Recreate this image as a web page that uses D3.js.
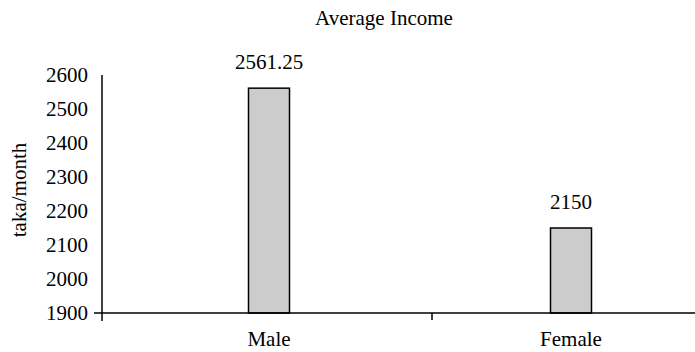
<!DOCTYPE html>
<html>
<head>
<meta charset="utf-8">
<script src="https://cdn.jsdelivr.net/npm/d3@7"></script>
<style>
  html, body { margin: 0; padding: 0; background: #fff; }
</style>
</head>
<body>
<svg id="chart" width="695" height="352" font-family="'Liberation Serif', Tinos, 'Times New Roman', Times, serif" font-size="21"></svg>
<script>
// Average monthly income by sex
const categories = ["Male", "Female"];
const incomes = [2561.25, 2150];
const valueLabels = ["2561.25", "2150"];
const yTicks = [1900, 2000, 2100, 2200, 2300, 2400, 2500, 2600];

const svg = d3.select("#chart");
const plotLeft = 102, plotRight = 762, plotTop = 75, plotBottom = 313;

const y = d3.scaleLinear().domain([1900, 2600]).range([plotBottom, plotTop]);
// category slots along the axis
const xBand = d3.scaleBand().domain(categories).range([plotLeft, plotRight]);
// bar / label centres
const xPos = d3.scalePoint().domain(categories).range([269, 571]);
const barW = 41;

// title
svg.append("text")
  .attr("x", 384).attr("y", 25)
  .attr("text-anchor", "middle")
  .text("Average Income");

// y axis title
svg.append("text")
  .attr("transform", "translate(26,190) rotate(-90)")
  .attr("text-anchor", "middle")
  .text("taka/month");

// y tick labels
svg.selectAll(".ytick").data(yTicks).enter().append("text")
  .attr("class", "ytick")
  .attr("x", plotLeft - 14)
  .attr("y", d => y(d))
  .attr("dy", "0.35em")
  .attr("text-anchor", "end")
  .text(d => d);

// bars
svg.selectAll(".bar").data(incomes).enter().append("rect")
  .attr("class", "bar")
  .attr("x", (d, i) => xPos(categories[i]) - barW / 2)
  .attr("y", d => y(d))
  .attr("width", barW)
  .attr("height", d => y(1900) - y(d))
  .attr("fill", "#cccccc")
  .attr("stroke", "#000")
  .attr("stroke-width", 1.5);

// value labels
svg.selectAll(".val").data(incomes).enter().append("text")
  .attr("class", "val")
  .attr("x", (d, i) => xPos(categories[i]))
  .attr("y", d => y(d) - 19)
  .attr("text-anchor", "middle")
  .text((d, i) => valueLabels[i]);

// axis lines
svg.append("line")
  .attr("x1", plotLeft).attr("x2", plotLeft)
  .attr("y1", plotTop).attr("y2", plotBottom + 8)
  .attr("stroke", "#000").attr("stroke-width", 1.5);
svg.append("line")
  .attr("x1", plotLeft - 8).attr("x2", 695)
  .attr("y1", plotBottom).attr("y2", plotBottom)
  .attr("stroke", "#000").attr("stroke-width", 1.5);

// category separator ticks
svg.selectAll(".xtick").data(categories.slice(1)).enter().append("line")
  .attr("class", "xtick")
  .attr("x1", d => xBand(d)).attr("x2", d => xBand(d))
  .attr("y1", plotBottom).attr("y2", plotBottom + 7)
  .attr("stroke", "#000").attr("stroke-width", 1.5);

// category labels
svg.selectAll(".cat").data(categories).enter().append("text")
  .attr("class", "cat")
  .attr("x", d => xPos(d))
  .attr("y", 346)
  .attr("text-anchor", "middle")
  .text(d => d);
</script>
</body>
</html>
